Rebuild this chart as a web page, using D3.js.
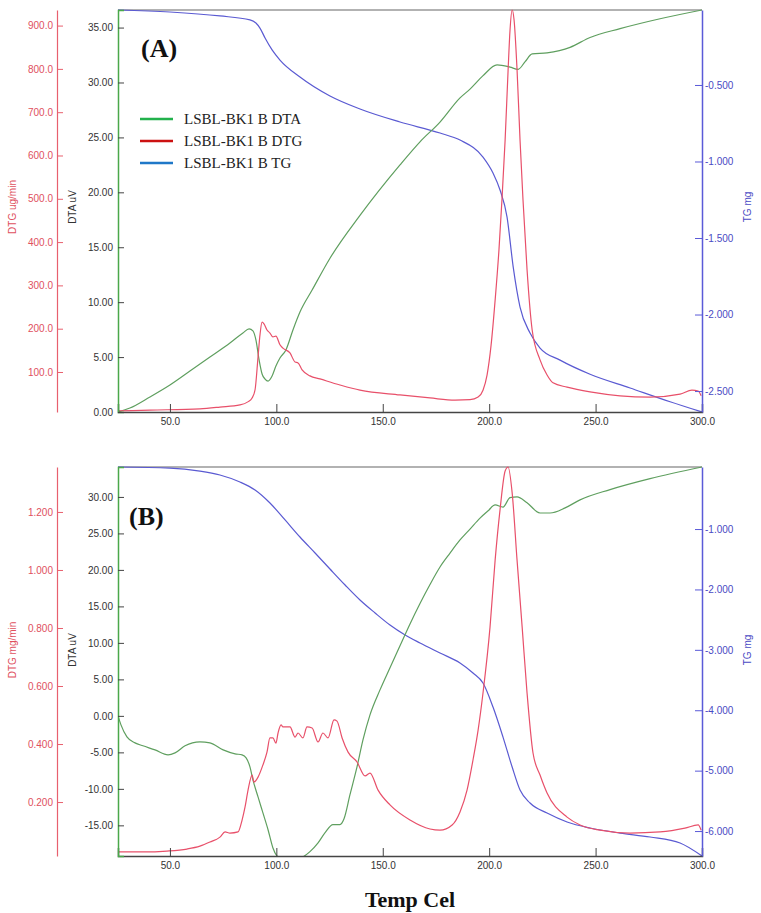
<!DOCTYPE html>
<html>
<head>
<meta charset="utf-8">
<script src="https://cdn.jsdelivr.net/npm/d3@7"></script>
<style>
  html, body { margin: 0; padding: 0; background: #fff; }
  svg { display: block; }
  text { font-family: "Liberation Sans", Arial, sans-serif; }
</style>
</head>
<body>
<svg id="chart" width="761" height="913"></svg>
<script>
// ---------------- DATA ----------------
const tempTicks = [50, 100, 150, 200, 250, 300];

// Panel A
const dtaTicksA = [0, 5, 10, 15, 20, 25, 30, 35];
const dtgTicksA = [100, 200, 300, 400, 500, 600, 700, 800, 900];
const tgTicksA  = [-0.5, -1.0, -1.5, -2.0, -2.5];

const dtaA = [
  [25.6,0.0],[31.2,0.36],[40.6,1.37],[50.0,2.46],[59.4,3.73],[68.8,5.0],[78.2,6.28],
  [84.3,7.2],[87.2,7.56],[89.0,7.38],[90.4,6.56],[91.9,4.74],[93.3,3.46],[94.7,3.0],
  [96.1,2.82],[98.0,3.28],[99.8,4.19],[101.7,4.92],[104.5,5.65],[107.8,7.47],[111.1,9.1],
  [116.8,11.1],[125.2,14.0],[139.3,17.9],[158.1,22.5],[167.5,24.6],[176.9,26.4],[186.3,28.6],
  [191.0,29.4],[197.0,30.6],[203.7,31.6],[209.8,31.4],[213.6,31.2],[216.9,31.9],[220.2,32.6],
  [227.2,32.7],[238.0,33.2],[247.4,34.1],[261.5,34.9],[280.3,35.8],[300.0,36.6]
];
const dtgA = [
  [25.6,10],[40.6,12],[64.1,15],[73.5,19],[82.9,24],[86.6,31],[88.6,40],[90.0,59],
  [91.4,135],[92.3,185],[93.3,215],[94.2,211],[95.6,197],[97.0,190],[98.4,181],[99.8,183],
  [101.7,163],[103.1,155],[106.4,144],[108.8,123],[110.2,121],[112.1,105],[115.8,91],
  [120.5,84],[129.9,70],[139.3,58],[158.1,47],[172.2,40],[184.0,35],[191.0,36],[194.8,42],
  [197.1,58],[199.0,93],[200.9,162],[202.8,266],[204.6,382],[206.0,497],[207.5,636],
  [208.9,798],[209.8,890],[210.8,936],[211.7,913],[213.1,798],[214.5,636],[215.9,497],
  [217.8,336],[220.2,197],[223.9,128],[227.2,93],[230.0,75],[236.6,65],[247.4,54],
  [261.5,45],[275.6,42],[289.7,49],[295.3,58],[298.2,56],[299.6,45]
];
const tgA = [
  [25.6,-0.01],[50.0,-0.023],[73.5,-0.049],[87.6,-0.075],[90.4,-0.095],[92.3,-0.128],
  [94.7,-0.193],[98.0,-0.271],[101.7,-0.337],[111.1,-0.448],[125.2,-0.572],[139.3,-0.657],
  [158.1,-0.742],[176.9,-0.814],[186.3,-0.86],[197.1,-0.971],[201.8,-1.075],[205.1,-1.186],
  [208.4,-1.363],[211.3,-1.69],[214.5,-1.951],[219.2,-2.121],[223.9,-2.219],[233.3,-2.298],
  [247.4,-2.39],[266.2,-2.48],[285.0,-2.57],[300.0,-2.637]
];

// Panel B
const dtaTicksB = [-15, -10, -5, 0, 5, 10, 15, 20, 25, 30];
const dtgTicksB = [0.2, 0.4, 0.6, 0.8, 1.0, 1.2];
const tgTicksB  = [-1, -2, -3, -4, -5, -6];

const dtaB = [
  [25.6,0],[27.0,-1.23],[29.8,-2.88],[33.6,-3.7],[37.3,-4.1],[43.0,-4.66],[49.1,-5.34],
  [52.4,-5.07],[57.1,-4.1],[64.1,-3.56],[68.8,-3.7],[75.0,-4.66],[80.6,-5.2],[83.9,-5.34],
  [85.8,-5.75],[87.6,-6.99],[89.0,-8.77],[91.4,-11.1],[93.7,-13.3],[96.1,-15.6],[98.4,-18.1],
  [101.7,-19.5],[106.4,-19.7],[111.1,-19.5],[115.8,-18.6],[119.6,-17.4],[122.9,-16.0],
  [126.6,-14.9],[129.9,-14.9],[131.8,-14.1],[134.6,-10.8],[137.9,-7.0],[140.7,-3.3],
  [144.0,0.14],[148.7,3.56],[153.4,6.6],[158.1,9.6],[162.8,12.6],[167.5,15.4],[172.2,18.0],
  [176.9,20.4],[181.6,22.3],[186.3,24.1],[191.0,25.6],[195.7,27.1],[199.5,28.1],[202.8,28.9],
  [206.5,28.6],[209.8,29.9],[213.1,30.0],[217.8,29.2],[223.9,27.8],[228.6,27.8],
  [235.7,28.5],[242.7,29.6],[256.8,31.0],[275.6,32.5],[300.0,34.1]
];
const dtgB = [
  [25.6,0.028],[37.3,0.028],[48.6,0.031],[58.0,0.038],[64.1,0.048],[68.8,0.062],[73.5,0.079],
  [75.9,0.097],[78.2,0.093],[82.0,0.097],[83.9,0.138],[85.3,0.183],[86.7,0.241],[88.6,0.293],
  [89.5,0.269],[91.4,0.286],[93.7,0.328],[95.6,0.372],[97.0,0.421],[98.4,0.421],[99.8,0.403],
  [100.8,0.438],[102.2,0.466],[103.1,0.459],[106.4,0.459],[108.8,0.424],[110.2,0.438],
  [112.5,0.421],[114.4,0.459],[116.8,0.455],[119.6,0.407],[121.9,0.438],[124.3,0.421],
  [127.1,0.483],[128.5,0.479],[130.9,0.421],[133.7,0.372],[137.9,0.338],[141.7,0.29],
  [144.0,0.3],[147.8,0.241],[153.4,0.19],[162.8,0.138],[172.2,0.107],[176.9,0.103],
  [182.6,0.121],[186.3,0.166],[189.6,0.241],[192.4,0.345],[194.8,0.448],[197.1,0.576],
  [200.4,0.803],[202.8,1.034],[205.1,1.207],[207.5,1.341],[208.9,1.355],[210.8,1.266],
  [213.1,1.034],[215.5,0.803],[217.8,0.576],[220.6,0.369],[223.9,0.293],[227.2,0.231],
  [236.6,0.148],[242.7,0.121],[252.1,0.103],[266.2,0.093],[280.3,0.097],[292.0,0.110],
  [298.2,0.121],[299.6,0.103]
];
const tgB = [
  [25.6,0.027],[50.0,0.01],[64.1,-0.04],[73.5,-0.105],[82.9,-0.221],[90.0,-0.354],
  [97.0,-0.569],[104.1,-0.85],[111.1,-1.132],[118.2,-1.397],[125.2,-1.662],[132.3,-1.927],
  [139.3,-2.175],[146.4,-2.39],[153.4,-2.589],[160.5,-2.754],[167.5,-2.887],[176.9,-3.053],
  [186.3,-3.218],[192.4,-3.384],[197.1,-3.55],[201.8,-3.947],[206.5,-4.444],[210.8,-4.94],
  [214.5,-5.321],[219.2,-5.536],[227.2,-5.702],[236.6,-5.85],[247.4,-5.95],[261.5,-6.033],
  [275.6,-6.099],[289.7,-6.198],[300.0,-6.413]
];

const legendLabels = ["LSBL-BK1 B DTA", "LSBL-BK1 B DTG", "LSBL-BK1 B TG"];
const legendColors = ["#22b14c", "#cc1111", "#1f78c8"];

// ---------------- DRAWING ----------------
const svg = d3.select("#chart");
const loc = d3.formatLocale({decimal: ".", thousands: ",", grouping: [3], currency: ["", ""], minus: "-"});

const C = {
  dta: "#5f9f5f", dtg: "#e8506a", tg: "#5a5ad2",
  dtgAxis: "#e8606e", dtgText: "#e0505e", tgText: "#4a4ac4", tgAxis: "#5a5ad8",
  frame: "#555"
};

const L = 118, R = 702;

function panel(cfg) {
  const g = svg.append("g");
  const x = d3.scaleLinear().domain([25.6, 300]).range([L, R]);
  const yDta = d3.scaleLinear().domain(cfg.dtaDomain).range([cfg.bottom, cfg.top]);
  const yDtg = d3.scaleLinear().domain(cfg.dtgDomain).range([cfg.bottom, cfg.top]);
  const yTg  = d3.scaleLinear().domain(cfg.tgDomain).range([cfg.bottom, cfg.top]);

  const clipId = "clip" + cfg.id;
  svg.append("clipPath").attr("id", clipId).append("rect")
    .attr("x", L).attr("y", cfg.top - 2).attr("width", R - L).attr("height", cfg.bottom - cfg.top + 2);

  // frame top
  g.append("line").attr("x1", L).attr("x2", R).attr("y1", cfg.top).attr("y2", cfg.top)
    .attr("stroke", "#666").attr("stroke-width", 1.2);

  // curves
  const mk = (ys) => d3.line().x(d => x(d[0])).y(d => ys(d[1])).curve(d3.curveMonotoneX);
  const cg = g.append("g").attr("clip-path", `url(#${clipId})`).attr("fill", "none").attr("stroke-width", 1.2);
  cg.append("path").attr("d", mk(yTg)(cfg.tg)).attr("stroke", C.tg);
  cg.append("path").attr("d", mk(yDta)(cfg.dta)).attr("stroke", C.dta);
  cg.append("path").attr("d", mk(yDtg)(cfg.dtg)).attr("stroke", C.dtg);

  // x axis (bottom)
  const xa = g.append("g").attr("transform", `translate(0,${cfg.bottom})`)
    .call(d3.axisBottom(x).tickValues(tempTicks).tickFormat(loc.format(".1f")).tickSize(-8).tickPadding(6));
  xa.select(".domain").attr("stroke", "#444").attr("stroke-width", 1.5);
  xa.selectAll(".tick line").attr("stroke", "#444");
  xa.selectAll("text").attr("fill", "#333").style("font-size", "10px");

  // DTA axis (left, frame edge)
  const da = g.append("g").attr("transform", `translate(${L},0)`)
    .call(d3.axisLeft(yDta).tickValues(cfg.dtaTicks).tickFormat(loc.format(".2f")).tickSize(-6).tickPadding(5));
  da.select(".domain").attr("stroke", "#4aa84a").attr("stroke-width", 1.5);
  da.selectAll(".tick line").attr("stroke", "#444");
  da.selectAll("text").attr("fill", "#333").style("font-size", "10px");

  // DTG axis (far left)
  const ga = g.append("g").attr("transform", `translate(57,0)`)
    .call(d3.axisLeft(yDtg).tickValues(cfg.dtgTicks).tickFormat(loc.format(cfg.dtgFmt)).tickSize(-6).tickPadding(4).tickSizeOuter(0));
  ga.select(".domain").attr("stroke", C.dtgAxis).attr("stroke-width", 1.2);
  ga.selectAll(".tick line").attr("stroke", C.dtgAxis);
  ga.selectAll("text").attr("fill", C.dtgText).style("font-size", "10px");

  // TG axis (right)
  const ta = g.append("g").attr("transform", `translate(${R},0)`)
    .call(d3.axisRight(yTg).tickValues(cfg.tgTicks).tickFormat(loc.format(".3f")).tickSize(-7).tickPadding(3).tickSizeOuter(0));
  ta.select(".domain").attr("stroke", C.tgAxis).attr("stroke-width", 1.5);
  ta.selectAll(".tick line").attr("stroke", C.tgAxis);
  ta.selectAll("text").attr("fill", C.tgText).style("font-size", "10px");

  // axis titles
  const title = (tx, ty, txt, col) => g.append("text")
    .attr("transform", `translate(${tx},${ty}) rotate(-90)`)
    .attr("text-anchor", "middle").attr("dominant-baseline", "middle")
    .attr("fill", col).style("font-size", "10px").text(txt);
  title(13, cfg.titleY, cfg.dtgTitle, C.dtgText);
  title(73, cfg.titleY, "DTA uV", "#333");
  title(748, cfg.titleY, "TG mg", C.tgText);

  // panel label
  g.append("text").attr("x", cfg.labelX).attr("y", cfg.labelY)
    .style("font-family", "'Liberation Serif', 'Times New Roman', serif")
    .style("font-weight", "bold").style("font-size", "26px").attr("fill", "#111").text(cfg.label);
}

panel({
  id: "A", top: 10, bottom: 412,
  dtaDomain: [0, 36.6], dtgDomain: [7.6, 936], tgDomain: [-2.637, -0.01],
  dtaTicks: dtaTicksA, dtgTicks: dtgTicksA, tgTicks: tgTicksA, dtgFmt: ".1f",
  dta: dtaA, dtg: dtgA, tg: tgA,
  dtgTitle: "DTG ug/min", titleY: 207, label: "(A)", labelX: 141, labelY: 57
});

panel({
  id: "B", top: 467, bottom: 856,
  dtaDomain: [-19.2, 34.1], dtgDomain: [0.014, 1.355], tgDomain: [-6.413, 0.027],
  dtaTicks: dtaTicksB, dtgTicks: dtgTicksB, tgTicks: tgTicksB, dtgFmt: ".3f",
  dta: dtaB, dtg: dtgB, tg: tgB,
  dtgTitle: "DTG mg/min", titleY: 650, label: "(B)", labelX: 129, labelY: 525
});

// legend (panel A)
const leg = svg.append("g");
legendLabels.forEach((t, i) => {
  const yy = 119 + i * 22;
  leg.append("line").attr("x1", 140).attr("x2", 173).attr("y1", yy).attr("y2", yy)
    .attr("stroke", legendColors[i]).attr("stroke-width", 2.5);
  leg.append("text").attr("x", 184).attr("y", yy + 5)
    .style("font-family", "'Liberation Serif', 'Times New Roman', serif")
    .style("font-size", "15px").attr("fill", "#222").text(t);
});

// x axis title
svg.append("text").attr("x", 410).attr("y", 907).attr("text-anchor", "middle")
  .style("font-family", "'Liberation Serif', 'Times New Roman', serif")
  .style("font-weight", "bold").style("font-size", "22px").attr("fill", "#111").text("Temp Cel");
</script>
</body>
</html>
